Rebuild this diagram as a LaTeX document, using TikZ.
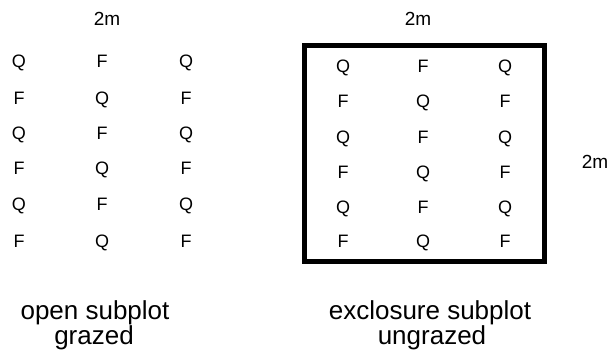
\documentclass[tikz,border=0pt]{standalone}
\usepackage{fontspec}
\setmainfont{Liberation Sans}
\begin{document}
\begin{tikzpicture}[x=1pt,y=1pt,
  letter/.style={inner sep=0pt,font=\fontsize{18}{18}\selectfont,text height=13pt,text depth=0pt,anchor=center},
  dim/.style={inner sep=0pt,font=\fontsize{19}{19}\selectfont,text height=13pt,text depth=0pt,anchor=center},
  caption/.style={inner sep=0pt,font=\fontsize{26}{25}\selectfont,anchor=base},
  plotbox/.style={draw=black,line width=5pt}]
\useasboundingbox (0,0) rectangle (614,-358);
% top labels
\node[dim] (dimL) at (107,-19.5) {2m};
\node[dim] (dimR) at (418,-19.5) {2m};
\node[dim] (dimS) at (595,-162) {2m};
% exclosure box
\draw[plotbox] (304.5,-46) rectangle (544.5,-262);
% left grid
\foreach \r/\y in {1/61,2/98,3/133,4/168,5/204,6/241}{
  \pgfmathparse{mod(\r,2)==1 ? 1 : 0}
  \ifnum\pgfmathresult=1
    \node[letter] (L\r a) at (19,-\y) {Q};
    \node[letter] (L\r b) at (102,-\y) {F};
    \node[letter] (L\r c) at (186,-\y) {Q};
  \else
    \node[letter] (L\r a) at (19,-\y) {F};
    \node[letter] (L\r b) at (102,-\y) {Q};
    \node[letter] (L\r c) at (186,-\y) {F};
  \fi
}
% right grid
\foreach \r/\y in {1/66,2/101,3/137,4/172,5/207,6/241}{
  \pgfmathparse{mod(\r,2)==1 ? 1 : 0}
  \ifnum\pgfmathresult=1
    \node[letter] (R\r a) at (343,-\y) {Q};
    \node[letter] (R\r b) at (423,-\y) {F};
    \node[letter] (R\r c) at (505,-\y) {Q};
  \else
    \node[letter] (R\r a) at (343,-\y) {F};
    \node[letter] (R\r b) at (423,-\y) {Q};
    \node[letter] (R\r c) at (505,-\y) {F};
  \fi
}
% captions
\node[caption] (capL1) at (95,-320) {open subplot};
\node[caption] (capL2) at (94,-345) {grazed};
\node[caption] (capR1) at (430,-320) {exclosure subplot};
\node[caption] (capR2) at (432,-345) {ungrazed};
\end{tikzpicture}
\end{document}
